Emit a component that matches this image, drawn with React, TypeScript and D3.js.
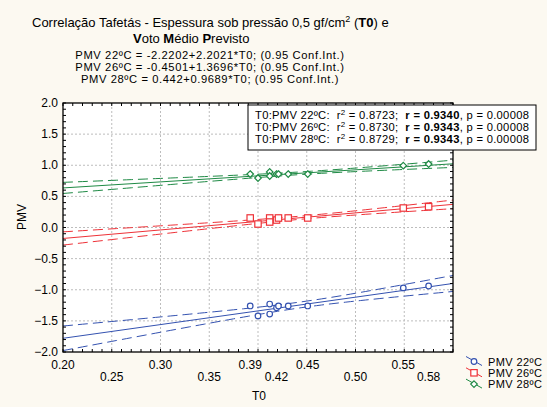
import React from 'react';
import * as d3 from 'd3';

const t0 = [0.392, 0.4, 0.412, 0.412, 0.419, 0.421, 0.431, 0.451, 0.549, 0.575];
const pmv22 = [-1.26, -1.42, -1.23, -1.39, -1.29, -1.26, -1.26, -1.26, -0.97, -0.94];
const pmv26 = [0.153, 0.056, 0.153, 0.088, 0.12, 0.153, 0.153, 0.153, 0.313, 0.334];
const pmv28 = [0.859, 0.795, 0.892, 0.827, 0.859, 0.859, 0.859, 0.859, 0.993, 1.02];

const seriesNames = ['PMV 22ºC', 'PMV 26ºC', 'PMV 28ºC'];
const intercepts = [-2.2202, -0.4501, 0.442];
const slopes = [2.2021, 1.3696, 0.9689];
const equations = [
  'PMV 22ºC = -2.2202+2.2021*T0; (0.95 Conf.Int.)',
  'PMV 26ºC = -0.4501+1.3696*T0; (0.95 Conf.Int.)',
  'PMV 28ºC = 0.442+0.9689*T0; (0.95 Conf.Int.)',
];
const rSquared = ['0.8723', '0.8730', '0.8729'];
const rValues = ['0.9340', '0.9343', '0.9343'];
const pValues = ['0.00008', '0.00008', '0.00008'];

const xTicksUpper = [0.2, 0.3, 0.392, 0.451, 0.549];
const xLabelsUpper = ['0.20', '0.30', '0.39', '0.45', '0.55'];
const xTicksLower = [0.25, 0.35, 0.419, 0.5, 0.575];
const xLabelsLower = ['0.25', '0.35', '0.42', '0.50', '0.58'];
const yTicks = [-2, -1.5, -1, -0.5, 0, 0.5, 1, 1.5, 2];

const COLORS = ['#3452b0', '#ee3238', '#1f8a45'];
const FONT = 'Arial, "Liberation Sans", sans-serif';

const W = 547;
const H = 407;
const x = d3.scaleLinear().domain([0.2, 0.6]).range([63, 453]);
const y = d3.scaleLinear().domain([-2, 2]).range([352, 103]);

const allY = [pmv22, pmv26, pmv28];

// 95% confidence band around the fitted line
const band = (i: number) => {
  const n = t0.length;
  const xm = d3.mean(t0) as number;
  const sxx = d3.sum(t0, v => (v - xm) ** 2);
  const ss = d3.sum(t0, (v, k) => (allY[i][k] - (intercepts[i] + slopes[i] * v)) ** 2);
  const s = Math.sqrt(ss / (n - 2));
  const tcrit = 2.306;
  const xs = d3.range(0.2, 0.6001, 0.005);
  const pts = xs.map(v => {
    const fit = intercepts[i] + slopes[i] * v;
    const h = tcrit * s * Math.sqrt(1 / n + (v - xm) ** 2 / sxx);
    return { v, lo: fit - h, hi: fit + h };
  });
  const lineLo = d3.line<any>().x(d => x(d.v)).y(d => y(d.lo));
  const lineHi = d3.line<any>().x(d => x(d.v)).y(d => y(d.hi));
  return [lineLo(pts), lineHi(pts)];
};

const Marker = ({ kind, cx, cy, color }: { kind: number; cx: number; cy: number; color: string }) => {
  if (kind === 0) return <circle cx={cx} cy={cy} r={2.8} fill="white" stroke={color} strokeWidth={1.2} />;
  if (kind === 1) return <rect x={cx - 3.2} y={cy - 3.2} width={6.4} height={6.4} fill="white" stroke={color} strokeWidth={1.2} />;
  return (
    <path
      d={`M${cx},${cy - 3.3}L${cx + 3.3},${cy}L${cx},${cy + 3.3}L${cx - 3.3},${cy}Z`}
      fill="white"
      stroke={color}
      strokeWidth={1.2}
    />
  );
};

const App = () => {
  const [x0, x1] = x.range();
  const [y1, y0] = y.range();
  const minorX = d3.range(0.2, 0.6001, 0.01);
  const minorY = d3.range(-2, 2.001, 0.1);
  const gridX = d3.range(0.25, 0.5501, 0.05);

  return (
    <svg width={W} height={H} style={{ position: 'absolute', left: 0, top: 0 }} fontFamily={FONT}>
      <rect width={W} height={H} fill="#fcf9f1" />

      <text x={32} y={27} fontSize={13}>
        Correlação Tafetás - Espessura sob pressão 0,5 gf/cm
        <tspan dy={-5} fontSize={9}>2</tspan>
        <tspan dy={5}> (</tspan>
        <tspan fontWeight="bold">T0</tspan>) e
      </text>
      <text x={133} y={43} fontSize={13}>
        <tspan fontWeight="bold">V</tspan>oto <tspan fontWeight="bold">M</tspan>édio{' '}
        <tspan fontWeight="bold">P</tspan>revisto
      </text>
      {equations.map((e, i) => (
        <text key={e} x={210} y={58.5 + i * 12.3} fontSize={11.2} letterSpacing={0.6} textAnchor="middle">
          {e}
        </text>
      ))}

      <rect x={x0} y={y0} width={x1 - x0} height={y1 - y0} fill="white" />

      {gridX.map(v => (
        <line key={'gx' + v} x1={x(v)} x2={x(v)} y1={y0} y2={y1} stroke="#bdbdbd" strokeDasharray="2,2" />
      ))}
      {yTicks.slice(1, -1).map(v => (
        <line key={'gy' + v} x1={x0} x2={x1} y1={y(v)} y2={y(v)} stroke="#bdbdbd" strokeDasharray="2,2" />
      ))}

      <g>
        {allY.map((_, i) => {
          const [lo, hi] = band(i);
          return (
            <g key={'s' + i} stroke={COLORS[i]} fill="none" strokeWidth={1}>
              <line x1={x(0.2)} y1={y(intercepts[i] + slopes[i] * 0.2)} x2={x(0.6)} y2={y(intercepts[i] + slopes[i] * 0.6)} />
              <path d={lo as string} strokeDasharray="10,5" />
              <path d={hi as string} strokeDasharray="10,5" />
            </g>
          );
        })}
        {allY.map((ys, i) =>
          ys.map((v, k) => <Marker key={`m${i}-${k}`} kind={i} cx={x(t0[k])} cy={y(v)} color={COLORS[i]} />)
        )}
      </g>

      {minorX.map(v => (
        <g key={'tx' + v} stroke="black">
          <line x1={x(v)} x2={x(v)} y1={y1} y2={y1 - 3} />
          <line x1={x(v)} x2={x(v)} y1={y0} y2={y0 + 3} />
        </g>
      ))}
      {minorY.map(v => (
        <g key={'ty' + v} stroke="black">
          <line x1={x0} x2={x0 + 3} y1={y(v)} y2={y(v)} />
          <line x1={x1} x2={x1 - 3} y1={y(v)} y2={y(v)} />
        </g>
      ))}
      <rect x={x0} y={y0} width={x1 - x0} height={y1 - y0} fill="none" stroke="black" strokeWidth={1.3} />

      {yTicks.map(v => (
        <text key={'yl' + v} x={58} y={y(v) + 4} fontSize={12} textAnchor="end">
          {d3.format('.1f')(v)}
        </text>
      ))}
      {xTicksUpper.map((v, i) => (
        <text key={'xu' + v} x={x(v)} y={368.5} fontSize={12} textAnchor="middle">
          {xLabelsUpper[i]}
        </text>
      ))}
      {xTicksLower.map((v, i) => (
        <text key={'xl' + v} x={x(v)} y={380.5} fontSize={12} textAnchor="middle">
          {xLabelsLower[i]}
        </text>
      ))}
      <text x={259} y={400} fontSize={12} textAnchor="middle">T0</text>
      <text transform="translate(26,217) rotate(-90)" fontSize={12} textAnchor="middle">PMV</text>

      <rect x={248} y={105} width={288} height={45} fill="white" stroke="black" strokeWidth={1} />
      {seriesNames.map((name, i) => (
        <text key={'lg' + i} x={255} y={119 + i * 12} fontSize={11.2} letterSpacing={0.3} style={{ whiteSpace: 'pre' }}>
          {`T0:PMV ${name.slice(4)}:  r`}
          <tspan dy={-4} fontSize={8}>2</tspan>
          <tspan dy={4}>{` = ${rSquared[i]};  `}</tspan>
          <tspan fontWeight="bold">{`r = ${rValues[i]}`}</tspan>
          {`, p = ${pValues[i]}`}
        </text>
      ))}

      {seriesNames.map((name, i) => {
        const cy = 361.5 + i * 11.3;
        return (
          <g key={'bl' + i}>
            <line x1={466} y1={cy - 5} x2={482} y2={cy + 4} stroke={COLORS[i]} />
            <Marker kind={i} cx={474} cy={cy} color={COLORS[i]} />
            <text x={488} y={cy + 4} fontSize={11} letterSpacing={0.4}>{name}</text>
          </g>
        );
      })}
    </svg>
  );
};

export default App;
